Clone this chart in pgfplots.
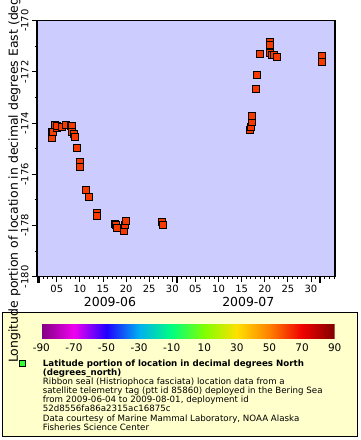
\documentclass[border=0pt]{standalone}
\usepackage{pgfplots}
\pgfplotsset{compat=1.18}
\usepackage{fontspec}
\setmainfont{DejaVu Sans}
\definecolor{plotbg}{HTML}{CCCCFF}
\definecolor{legbg}{HTML}{FFFFCC}
\definecolor{legmark}{HTML}{33FF33}
\pgfplotsset{colormap={erddap}{rgb255(0)=(128,0,128) rgb255(1)=(240,0,240) rgb255(2)=(32,0,255) rgb255(3)=(0,176,240) rgb255(4)=(0,255,128) rgb255(5)=(128,255,0) rgb255(6)=(255,224,0) rgb255(7)=(255,128,0) rgb255(8)=(240,0,0) rgb255(9)=(128,0,0)}}
\pgfplotstableread{
d lon lat
2.9 -174.46 60
2.9 -174.58 60
2.9 -174.34 60
3.2 -174.34 60
3.6 -174.07 61
4.0 -174.19 61
4.05 -174.11 61
5.1 -174.14 61
6.1 -174.07 61
7.0 -174.11 61
7.3 -174.11 61
7.2 -174.34 61
7.7 -174.43 61
7.9 -174.55 61
8.4 -174.96 61
9.0 -175.51 61
9.0 -175.73 61
10.3 -176.61 61
10.9 -176.88 61
12.6 -177.50 61
12.6 -177.62 61
16.6 -177.95 61
16.8 -178.00 61
17.1 -178.09 61
18.5 -178.21 61
18.7 -178.00 61
18.9 -177.81 61
26.7 -177.88 61
26.9 -178.00 61
45.8 -174.27 61
46.0 -174.14 61
46.2 -173.95 61
46.3 -173.72 61
47.0 -172.66 61
47.3 -172.11 61
47.9 -171.30 61
50.1 -170.83 61
50.2 -170.95 61
50.2 -171.27 61
50.5 -171.34 61
50.9 -171.33 61
51.7 -171.41 61
61.4 -171.38 61
61.4 -171.60 61
}\seal
\begin{document}
\begin{tikzpicture}[x=1bp,y=1bp]
\fill[white] (0,0) rectangle (360,440);
\begin{scope}
\clip (0,0) rectangle (360,440);
\draw[fill=legbg, line width=1bp] (2.5,3.5) rectangle (357.5,127.5);
\begin{axis}[
  at={(37bp,163.3bp)}, anchor=south west,
  scale only axis, width=298bp, height=256bp,
  xmin=-0.28, xmax=64.2, ymin=-180, ymax=-170,
  axis background/.style={fill=plotbg},
  axis line style={line width=1.2bp},
  xtick pos=bottom, ytick pos=left, tick align=outside,
  major tick length=5bp, minor tick length=2.5bp,
  every tick/.style={black, line width=0.8bp},
  xtick={4,9,14,19,24,29,34,39,44,49,54,59},
  xticklabels={05,10,15,20,25,30,05,10,15,20,25,30},
  minor xtick={0,1,...,64},
  extra x ticks={0,30,61}, extra x tick labels={},
  extra x tick style={major tick length=6bp, every tick/.style={black, line width=2.5bp}},
  ytick={-180,-178,-176,-174,-172,-170},
  yticklabels={-180,-178,-176,-174,-172,-170},
  minor ytick={-179,-177,-175,-173,-171},
  yticklabel style={rotate=90, anchor=south},
  ticklabel style={font=\fontsize{10}{12}\selectfont},
  colormap name=erddap,
  point meta min=-90, point meta max=90,
  colorbar horizontal,
  colorbar style={
    at={(parent axis.south west)}, anchor=north west,
    xshift=4.3bp, yshift=-38.3bp,
    scale only axis, width=293.4bp, height=15bp,
    xtick={-90,-70,-50,-30,-10,10,30,50,70,90},
    xticklabels={-90,-70,-50,-30,-10,10,30,50,70,90},
    axis line style={draw=none}, major tick length=0pt,
    xticklabel style={font=\fontsize{10.5}{12}\selectfont, yshift=-2bp},
  },
]
\addplot[scatter, only marks, mark=square*, mark size=3.5bp,
  mark options={line width=1bp},
  scatter/use mapped color={draw=black, fill=mapped color},
  point meta=explicit] table[x=d, y=lon, meta=lat] {\seal};
\end{axis}
\node[font=\fontsize{12.5}{15}\selectfont] at (110,138.3) {2009-06};
\node[font=\fontsize{12.5}{15}\selectfont] at (248.3,138.3) {2009-07};
\node[rotate=90, anchor=west, inner sep=0pt, font=\fontsize{12.5}{15}\selectfont] at (14.5,77) {Longitude portion of location in decimal degrees East (degrees\_east)};
\draw[fill=legmark, line width=0.8bp] (19.7,73.7) rectangle (25.7,79.7);
\begin{scope}[every node/.style={anchor=base west, inner sep=0pt, font=\fontsize{8.7}{9}\selectfont}]
\node[font=\fontsize{8.7}{9}\selectfont\bfseries] at (42.7,73.5) {Latitude portion of location in decimal degrees North};
\node[font=\fontsize{8.7}{9}\selectfont\bfseries] at (42.7,64.4) {(degrees\_north)};
\node at (42.7,55.3) {Ribbon seal (Histriophoca fasciata) location data from a};
\node at (42.7,46.2) {satellite telemetry tag (ptt id 85860) deployed in the Bering Sea};
\node at (42.7,37.1) {from 2009-06-04 to 2009-08-01, deployment id};
\node at (42.7,28.0) {52d8556fa86a2315ac16875c};
\node at (42.7,18.9) {Data courtesy of Marine Mammal Laboratory, NOAA Alaska};
\node at (42.7,9.8) {Fisheries Science Center};
\end{scope}
\end{scope}
\pgfresetboundingbox
\path[use as bounding box] (0,0) rectangle (360,440);
\end{tikzpicture}
\end{document}
